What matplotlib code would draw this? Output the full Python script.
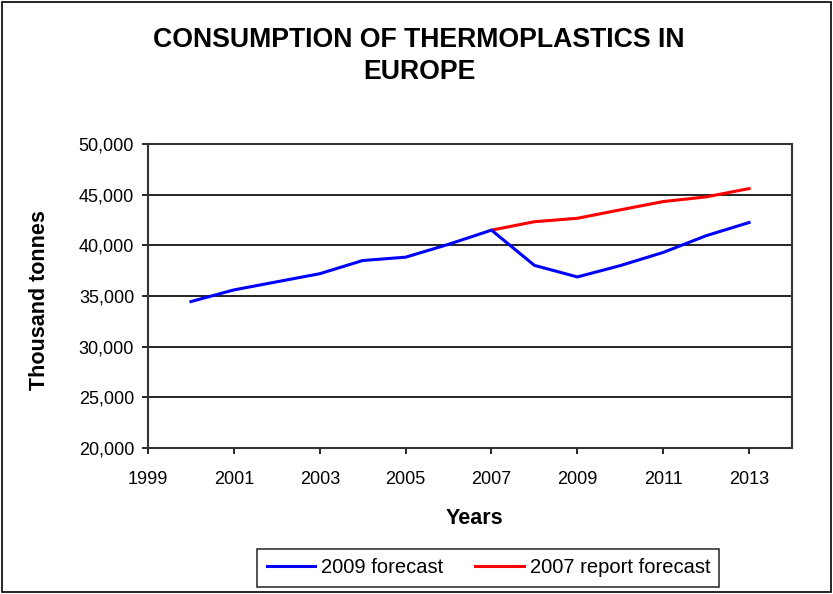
import numpy as np
import matplotlib.pyplot as plt
from matplotlib.patches import Rectangle

plt.rcParams['font.family'] = ['Liberation Sans', 'DejaVu Sans']

# yearly consumption, thousand tonnes
years_2009 = [2000, 2001, 2002, 2003, 2004, 2005, 2006, 2007, 2008, 2009, 2010, 2011, 2012, 2013]
forecast_2009 = [34450, 35600, 36400, 37200, 38500, 38830, 40100, 41500, 38020, 36880, 38000, 39300, 40950, 42250]

years_2007 = [2007, 2008, 2009, 2010, 2011, 2012, 2013]
forecast_2007 = [41500, 42330, 42670, 43500, 44320, 44780, 45600]

x_ticks = [1999, 2001, 2003, 2005, 2007, 2009, 2011, 2013]
y_ticks = [20000, 25000, 30000, 35000, 40000, 45000, 50000]

fig = plt.figure(figsize=(8.33, 5.94), dpi=100)
ax = fig.add_axes([0.1777, 0.2458, 0.7731, 0.5118])

ax.plot(years_2009, forecast_2009, color='#0000ff', lw=2.2, label='2009 forecast', zorder=3)
ax.plot(years_2007, forecast_2007, color='#ff0000', lw=2.2, label='2007 report forecast', zorder=2)

ax.set_xlim(1999, 2014)
ax.set_ylim(20000, 50000)
ax.set_xticks(x_ticks)
ax.set_yticks(y_ticks)
ax.set_yticklabels([f'{v:,}' for v in y_ticks])
ax.tick_params(labelsize=13, direction='out', length=4.5, width=1.2, color='black')
ax.tick_params(axis='x', pad=12)
ax.tick_params(axis='y', pad=5.5)
ax.yaxis.grid(True, color='black', lw=1.2)
ax.set_axisbelow(True)
for s in ax.spines.values():
    s.set_color('#333333')
    s.set_linewidth(1.5)

# axis titles placed directly on the figure
fig.text(0.5696, 1 - 519 / 594, 'Years', ha='center', va='center',
         fontsize=15.5, fontweight='bold')
fig.text(40 / 833, 1 - 300 / 594, 'Thousand tonnes', ha='center', va='center',
         rotation=90, fontsize=15.5, fontweight='bold')

fig.text(0.503, 0.933, 'CONSUMPTION OF THERMOPLASTICS IN', ha='center', va='center',
         fontsize=19.2, fontweight='bold')
fig.text(0.503, 0.879, 'EUROPE', ha='center', va='center',
         fontsize=19.2, fontweight='bold')

leg = fig.legend(loc='center', bbox_to_anchor=(0.5864, 0.0438), ncol=2, fontsize=14.5,
                 frameon=True, fancybox=False, edgecolor='black', handlelength=2.4,
                 handletextpad=0.3, columnspacing=1.6, borderpad=0.45, borderaxespad=0)
leg.get_frame().set_linewidth(1.2)

fig.patches.append(Rectangle((0.002, 0.003), 0.995, 0.994, transform=fig.transFigure,
                             fill=False, edgecolor='black', lw=1.2))

fig.savefig('out.png', dpi=100)
